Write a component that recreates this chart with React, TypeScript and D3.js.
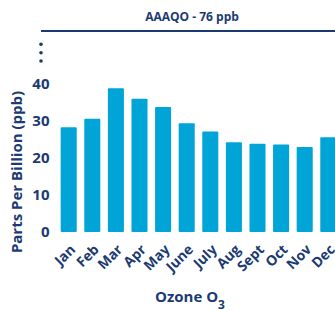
import * as d3 from "d3";
import { useEffect, useRef } from "react";

// месяцы и значения озона (ppb)
const months = ["Jan", "Feb", "Mar", "Apr", "May", "June", "July", "Aug", "Sept", "Oct", "Nov", "Dec"];
const ozone = [28.2, 30.5, 38.7, 35.9, 33.7, 29.3, 27.1, 24.2, 23.8, 23.6, 22.9, 25.5];
const yTicks = [0, 10, 20, 30, 40];
const title = "AAAQO - 76 ppb";

const navy = "#1b3a72";
const barColor = "#00a4d6";
const font = "'Open Sans', sans-serif";

const App = () => {
    const ref = useRef<SVGSVGElement>(null);
    const width = 335;
    const height = 310;

    useEffect(() => {
        const svg = d3.select(ref.current);
        svg.selectAll("*").remove();

        const x = d3.scaleBand<string>()
            .domain(months)
            .range([56.9, 56.9 + 12 * 23.6])
            .paddingInner(0.32)
            .paddingOuter(0.16);

        const y = d3.scaleLinear().domain([0, 40]).range([232, 83.5]);

        // заголовок и линия под ним
        svg.append("text")
            .attr("x", 192)
            .attr("y", 21)
            .attr("text-anchor", "middle")
            .attr("font-family", font)
            .attr("font-weight", 700)
            .attr("font-size", 12)
            .attr("fill", navy)
            .text(title);

        svg.append("line")
            .attr("x1", 41).attr("x2", width)
            .attr("y1", 31).attr("y2", 31)
            .attr("stroke", navy)
            .attr("stroke-width", 2);

        // три точки над осью
        svg.selectAll(".dot")
            .data([44.3, 52.7, 61])
            .enter()
            .append("circle")
            .attr("cx", 41)
            .attr("cy", d => d)
            .attr("r", 1.8)
            .attr("fill", navy);

        // подписи оси Y
        svg.selectAll(".ytick")
            .data(yTicks)
            .enter()
            .append("text")
            .attr("x", 49.5)
            .attr("y", d => y(d))
            .attr("dy", "0.36em")
            .attr("text-anchor", "end")
            .attr("font-family", font)
            .attr("font-weight", 700)
            .attr("font-size", 15)
            .attr("fill", navy)
            .text(d => d);

        // столбцы
        svg.selectAll(".bar")
            .data(ozone)
            .enter()
            .append("rect")
            .attr("x", (d, i) => x(months[i])!)
            .attr("y", d => y(d))
            .attr("width", x.bandwidth())
            .attr("height", d => y(0) - y(d))
            .attr("rx", 1)
            .attr("fill", barColor);

        // подписи месяцев
        svg.selectAll(".xtick")
            .data(months)
            .enter()
            .append("text")
            .attr("transform", d => `translate(${x(d)! + x.bandwidth() / 2 + 4}, 247) rotate(-45)`)
            .attr("dy", "0.35em")
            .attr("text-anchor", "end")
            .attr("font-family", font)
            .attr("font-weight", 700)
            .attr("font-size", 14)
            .attr("fill", navy)
            .text(d => d);

        // подпись оси Y
        svg.append("text")
            .attr("transform", "translate(22, 172) rotate(-90)")
            .attr("text-anchor", "middle")
            .attr("font-family", font)
            .attr("font-weight", 700)
            .attr("font-size", 15)
            .attr("fill", navy)
            .text("Parts Per Billion (ppb)");

        // подпись оси X
        const xt = svg.append("text")
            .attr("x", 190)
            .attr("y", 302)
            .attr("text-anchor", "middle")
            .attr("font-family", font)
            .attr("font-weight", 700)
            .attr("font-size", 15)
            .attr("fill", navy);
        xt.append("tspan").text("Ozone O");
        xt.append("tspan").attr("dy", 7).attr("font-size", 12).text("3");
    }, []);

    return (
        <svg
            ref={ref}
            width={width}
            height={height}
            style={{ position: "absolute", left: 0, top: 0, background: "#fff" }}
        ></svg>
    );
};

export default App;
